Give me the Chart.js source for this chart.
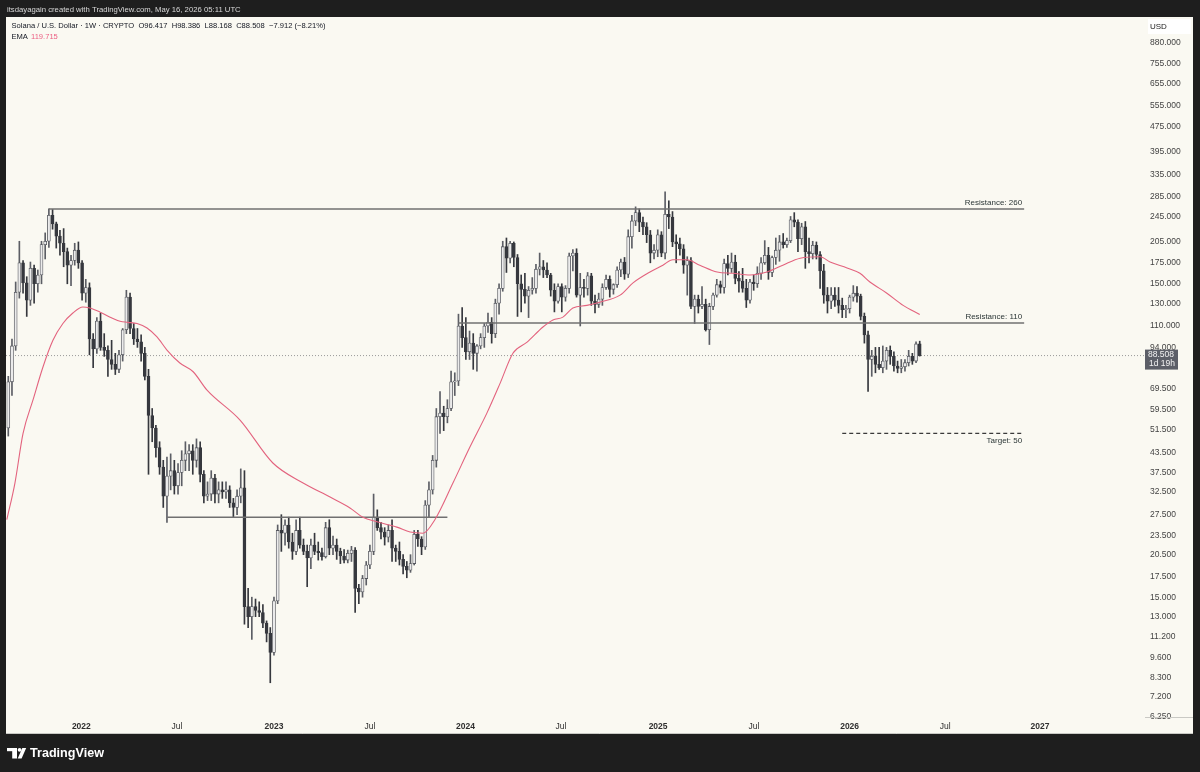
<!DOCTYPE html>
<html>
<head>
<meta charset="utf-8">
<script src="https://cdn.jsdelivr.net/npm/chart.js@4.4.1/dist/chart.umd.min.js"></script>
<style>
html,body{margin:0;padding:0;background:#1e1e1e;width:1200px;height:772px;overflow:hidden;}
#c{position:absolute;left:0;top:0;}
</style>
</head>
<body>
<canvas id="c" width="1200" height="772"></canvas>
<script>
// ---------- DATA (weekly candles, first week starts 2021-08-16) ----------
const firstWeek = '2021-08-16';
const openP = [52,73,95,141,175,151,133,168,150,160,200,205,248,233,213,202,190,172,178,192,
175,140,146,100,93,114,94,92,86,83,80,89,107,136,108,100,98,90,76,57,
52,45,39,31.5,36.5,38,34,37.5,41,43,44,41,45,37,31.5,32,36,32,33,32.5,
33,30,29,31.5,33.5,14,13,14,13.6,13.4,12.4,11.5,10,14.6,24.5,24,25.5,22.5,21,24.5,
22,21,20,22,21,20.8,20.2,25,21.5,22,21,20.3,19.7,20.7,21.2,16,15.6,17.2,19,21,
27,25,24.2,23.3,24.5,21.5,21,19.8,18.8,18.3,19.2,23.8,23,21.7,29.5,33,41,56.5,58,56.5,
60,73,73.5,110,101,91,97,90,95,101,110,113,104,130,145,197,181,202,182,150,
144,137,143,145,167,170,166,160,143,132,147,136,145,184,188,138,146,145,159,132,
129,134,146,155,144,149,166,176,161,212,238,253,236,228,215,188,192,215,188,250,
245,204,201,194,172,178,127,134,127,129,107,127,138,149,146,174,168,176,156,153,
145,133,152,150,162,175,185,163,182,192,204,200,206,240,236,209,228,190,187,199,
186,165,138,132,138,133,128,124,125,136,140,137,118,103,86,88,83,81,85,92,
88,82,80.5,81.5,84,88,85,96.417];
const highP = [76,100,152,205,178,158,176,172,166,205,218,260,259,236,222,225,195,185,202,204,
178,155,151,104,117,121,104,95,99,90,92,108,143,140,112,108,103,94,80,60,
53,47,41,42,43,41,40,44,47,46,46,48,47,38,35,38,37,35,35,35,
34,31,33,38.5,38,16,15,14.8,14.5,14.2,12.6,12,15,25.5,27.5,26.5,27,24,26.5,27,
23,22,23,24,22.5,21.5,26,26.5,23.5,23,21.5,21.3,21.2,21.8,21.6,16.5,17.6,19.5,22,32,
28.5,26,25,25.5,26.5,22,22.5,20.5,19.5,20.5,24.5,24.5,23.4,30.5,35,42.5,60,68,61,64,
79,78,120,126,117,106,104,96,104,112,121,117,134,150,205,210,205,204,186,160,
162,147,157,173,188,178,175,162,150,150,150,148,188,193,194,162,155,163,162,138,
140,150,160,159,150,170,180,182,223,248,264,260,245,235,222,200,223,220,295,276,
255,215,210,200,183,182,138,138,147,134,130,140,155,153,180,185,188,185,164,168,
155,155,160,170,182,206,196,184,210,214,217,210,246,253,240,234,237,210,205,204,
190,173,146,146,146,146,135,128,138,148,147,139,121,106,92,94,94,95,94,95,
91,85,86,86,92,90,98,98.386];
const lowP = [49,66,92,135,140,118,128,130,141,150,180,196,224,195,185,170,150,148,172,168,
133,131,89,81,90,92,88,76,80,77,78,85,104,104,96,94,85,74,37,47,
42,37,29,26,33,32,32,34,38,38,37,39,35,30,30.5,30.5,30,30,31,31,
29,27,27.5,30,12.3,12,11,13,13,12,10.8,8,9.8,14.3,21,22,21.5,19.8,20.5,21.5,
20.5,16.2,18.5,20.5,19.7,19.7,20,20.5,20.5,19.8,19.2,19.3,19.3,19.5,13.4,14.3,15,16.4,18.5,20.5,
24.5,23,22,22.5,19.5,19.5,19,17.8,17.3,18,19,21.8,20.5,21.3,27,32,39,50,51,54,
59,66,71,94,86,86,80,79,93,94,105,97,101,120,142,163,175,170,118,122,
130,117,139,140,160,157,157,137,122,130,122,132,140,165,136,110,136,138,128,121,
126,128,144,136,139,146,158,155,157,195,230,220,215,203,175,180,183,183,180,225,
197,175,185,162,138,125,112,121,125,106,96,124,136,140,140,160,163,150,141,141,
126,130,143,146,155,173,155,158,173,177,195,196,203,228,190,200,168,175,180,180,
145,130,121,125,127,121,117,117,121,132,131,115,97,68,76,78,80,78,80,83,
79,78,78,79,82,83,84,88.168];
const closeP = [73,95,141,175,151,133,168,150,160,200,205,248,233,213,202,190,172,178,192,175,
140,146,100,93,114,94,92,86,83,80,89,107,136,108,100,98,90,76,57,52,
45,39,31.5,36.5,38,34,37.5,41,43,44,41,45,37,31.5,32,36,32,33,32.5,33,
30,29,31.5,33.5,14,13,14,13.6,13.4,12.4,11.5,10,14.6,24.5,24,25.5,22.5,21,24.5,22,
21,20,22,21,20.8,20.2,25,21.5,22,21,20.3,19.7,20.7,21.2,16,15.6,17.2,19,21,27,
25,24.2,23.3,24.5,21.5,21,19.8,18.8,18.3,19.2,23.8,23,21.7,29.5,33,41,56.5,58,56.5,60,
73,73.5,110,101,91,97,90,95,101,110,113,104,130,145,197,181,202,182,150,144,
137,143,145,167,170,166,160,143,132,147,136,145,184,188,138,146,145,159,132,129,
134,146,155,144,149,166,176,161,212,238,253,236,228,215,188,192,215,188,250,245,
204,201,194,172,178,127,134,127,129,107,127,138,149,146,174,168,176,156,153,145,
133,152,150,162,175,185,163,182,192,204,200,206,240,236,209,228,190,187,199,186,
165,138,132,138,133,128,124,125,136,140,137,118,103,86,88,83,81,85,92,88,
82,80.5,81.5,84,88,85,96.417,88.508];

// EMA readings (position in weeks from first candle, value)
const emaAt  = [-0.4,1.8,4.0,6.7,9.4,12.1,14.8,17.5,20.2,22.1,24.9,27.6,30.3,32.4,34.9,37.6,40.3,43.0,46.5,50.1,
53.8,62.8,71.7,79.9,87.2,92.6,96.1,99.9,105.3,108.9,112.4,115.6,120.5,125.1,129.7,133.3,136.8,140.6,144.9,147.6,
150.3,153.0,156.8,160.3,165.8,169.3,173.9,177.4,180.1,183.9,187.4,192.1,196.4,201,205.6,209.9,214.6,220,222.7,227.3,
230.8,233.5,238.1,242.5,247];
const emaVal = [26.5,34.7,50,63.9,81.4,99,112,121,126.5,125.5,121.8,117.4,113.9,113,112,108.4,101.5,92.2,83.8,78.6,
68.8,55.1,40.2,34.7,31.3,28.9,27,26.1,25.1,24.2,24,26.5,34.7,45.2,58,72.3,90.2,97.7,109.2,115,
117.4,125.5,128,131,138,151,163.6,172,179,179,172,163.6,162,160,163.6,172,181,183,176,168.5,
162,152,140,128,119.715];

// Axis ticks
const priceTicks = [880,755,655,555,475,395,335,285,245,205,175,150,130,110,94,69.5,59.5,51.5,43.5,37.5,32.5,27.5,23.5,20.5,17.5,15,13,11.2,9.6,8.3,7.2,6.25];
const timeTickAt = [19.8,45.7,72,98,123.9,149.8,176.1,202.1,228,253.9,279.6];
const timeTickText = ['2022','Jul','2023','Jul','2024','Jul','2025','Jul','2026','Jul','2027'];

// Drawn levels
const levelVal  = [260,112.5,27,50];
const levelFrom = [11,122,43,226];
const levelTo   = [275.3,275.3,119,275.3];
const levelText = ['Resistance: 260','Resistance: 110','','Target: 50'];
const lastPrice = 88.508;
const lastPriceTimer = '1d 19h';

// Texts
const headerText = 'itsdayagain created with TradingView.com, May 16, 2026 05:11 UTC';
const legendText = 'Solana / U.S. Dollar · 1W · CRYPTO  O96.417  H98.386  L88.168  C88.508  \u22127.912 (\u22128.21%)';
const emaName = 'EMA';
const emaLast = '119.715';
const currency = 'USD';

// ---------- CHART ----------
const FONT = '"Liberation Sans", Arial, sans-serif';
const UP_FILL = '#ebebeb', UP_LINE = '#55575e', DN_FILL = '#36383e', WICK_UP = '#5c5e65';
const n = closeP.length;
const ks = Array.from({length:n},(_,i)=>i);
const isUp = i => closeP[i] >= openP[i];

const wickData = ks.map(i=>({x:i, y:[lowP[i], highP[i]]}));
const bodyData = ks.map(i=>({x:i, y:[Math.min(openP[i],closeP[i]), Math.max(openP[i],closeP[i])]}));
const emaData = emaAt.map((k,i)=>({x:k, y:emaVal[i]}));

const XMIN = -0.62, XMAX = 308.05, YMIN = 6.22, YMAX = 1065;

const levelSets = levelVal.map((v,i)=>({
  type:'line', data:[{x:levelFrom[i],y:v},{x:levelTo[i],y:v}],
  borderColor: i===3 ? '#3a3a3a' : '#707070', borderWidth: i===3 ? 1.2 : 1.5,
  borderDash: i===3 ? [4,3] : [], pointRadius:0, order:3
}));

function fitFont(ctx, text, width, weight){
  ctx.font = weight + ' 10px ' + FONT;
  const w = ctx.measureText(text).width;
  return weight + ' ' + (10*width/w).toFixed(2) + 'px ' + FONT;
}

const frame = {
  id:'frame',
  beforeDraw(chart){
    const ctx = chart.ctx;
    ctx.save();
    ctx.fillStyle = '#1e1e1e'; ctx.fillRect(0,0,1200,772);
    ctx.fillStyle = '#faf9f2'; ctx.fillRect(6,17,1187,717);
    ctx.restore();
  },
  afterDatasetsDraw(chart){
    const {ctx, scales:{x,y}} = chart;
    ctx.save();
    ctx.font = '8px ' + FONT;
    ctx.fillStyle = '#2b3636';
    ctx.textAlign = 'right';
    levelText.forEach((t,i)=>{
      if(!t) return;
      const px = x.getPixelForValue(levelTo[i]) - 2;
      const py = y.getPixelForValue(levelVal[i]);
      if (levelVal[i] > lastPrice){ ctx.textBaseline='bottom'; ctx.fillText(t, px, py-2); }
      else { ctx.textBaseline='top'; ctx.fillText(t, px, py+3); }
    });
    ctx.restore();
  },
  afterDraw(chart){
    const {ctx, scales:{y}, chartArea:a} = chart;
    ctx.save();
    // axis separators
    ctx.strokeStyle = '#c9c9c4'; ctx.lineWidth = 1;
    ctx.beginPath(); ctx.moveTo(a.right, a.bottom+0.5); ctx.lineTo(1193, a.bottom+0.5); ctx.stroke();
    ctx.beginPath(); ctx.moveTo(6, 733.5); ctx.lineTo(1193, 733.5); ctx.stroke();
    // USD box
    ctx.fillStyle = '#ffffff'; ctx.fillRect(1148,19,43,15);
    ctx.fillStyle = '#222'; ctx.font = '8px ' + FONT; ctx.textBaseline='middle'; ctx.textAlign='left';
    ctx.fillText(currency, 1150, 26.5);
    // last price box
    const py = y.getPixelForValue(lastPrice);
    ctx.fillStyle = '#5c5f68'; ctx.fillRect(a.right, py-6, 33, 20);
    ctx.fillStyle = '#f2f2f2'; ctx.font = '8.5px ' + FONT;
    ctx.fillText(lastPrice.toFixed(3), a.right+3, py-0.5);
    ctx.fillText(lastPriceTimer, a.right+4, py+8.5);
    // header
    ctx.fillStyle = '#d8d8d8'; ctx.font = fitFont(ctx, headerText, 234, 'normal');
    ctx.fillText(headerText, 7, 9.5);
    // legend
    ctx.fillStyle = '#131722'; ctx.font = fitFont(ctx, legendText, 314, 'normal');
    ctx.fillText(legendText, 11.5, 26);
    ctx.fillText(emaName, 11.5, 36.5);
    ctx.fillStyle = '#ec5f83';
    ctx.fillText(emaLast, 31, 36.5);
    // footer logo
    ctx.fillStyle = '#ffffff';
    ctx.fillRect(7,748,10,3.2); ctx.fillRect(12.2,748,4.8,10.5);
    ctx.beginPath(); ctx.arc(19.6,749.8,1.9,0,Math.PI*2); ctx.fill();
    ctx.beginPath(); ctx.moveTo(22.3,748); ctx.lineTo(26.2,748); ctx.lineTo(21.6,758.5); ctx.lineTo(17.7,758.5); ctx.closePath(); ctx.fill();
    ctx.font = fitFont(ctx, 'TradingView', 74, 'bold');
    ctx.fillText('TradingView', 30, 753.5);
    ctx.restore();
  }
};

new Chart(document.getElementById('c'), {
  type:'bar',
  data:{
    datasets:[
      {type:'line', data:[{x:XMIN,y:lastPrice},{x:XMAX,y:lastPrice}], borderColor:'#9a9a9a', borderWidth:1, borderDash:[1,2], pointRadius:0, order:10},
      {label:'wick', data:wickData, grouped:false, barThickness:1, backgroundColor: c=> isUp(c.dataIndex)?WICK_UP:DN_FILL, borderWidth:0, order:6},
      {label:'body', data:bodyData, grouped:false, barThickness:3, minBarLength:1,
        backgroundColor: c=> isUp(c.dataIndex)?UP_FILL:DN_FILL,
        borderColor: c=> isUp(c.dataIndex)?UP_LINE:DN_FILL,
        borderWidth:0.8, borderSkipped:false, order:5},
      ...levelSets,
      {type:'line', label:'EMA', data:emaData, borderColor:'#e3637e', borderWidth:1.1, pointRadius:0, cubicInterpolationMode:'monotone', order:2}
    ]
  },
  options:{
    responsive:false, animation:false, devicePixelRatio:1,
    layout:{padding:{left:6, top:17, right:7, bottom:38}},
    plugins:{legend:{display:false}, tooltip:{enabled:false}},
    scales:{
      x:{type:'linear', min:XMIN, max:XMAX, offset:false,
        grid:{display:false, drawTicks:false}, border:{display:false},
        afterBuildTicks: s=>{ s.ticks = timeTickAt.map(v=>({value:v})); },
        afterFit: s=>{ s.height = 17; },
        ticks:{autoSkip:false, maxRotation:0, padding:5, color:'#2f2f2f',
          font: c=>({family:FONT, size:8.5, weight: /^\d/.test(timeTickText[c.index]||'') ? 'bold':'normal'}),
          callback:(v,i)=>timeTickText[i]}
      },
      y:{type:'logarithmic', position:'right', min:YMIN, max:YMAX,
        grid:{display:false, drawTicks:false}, border:{display:false},
        afterBuildTicks: s=>{ s.ticks = priceTicks.map(v=>({value:v})); },
        afterFit: s=>{ s.width = 48; },
        ticks:{autoSkip:false, padding:5, color:'#444', font:{family:FONT, size:8.5},
          callback: v=>Number(v).toFixed(3)}
      }
    }
  },
  plugins:[frame]
});
</script>
</body>
</html>
